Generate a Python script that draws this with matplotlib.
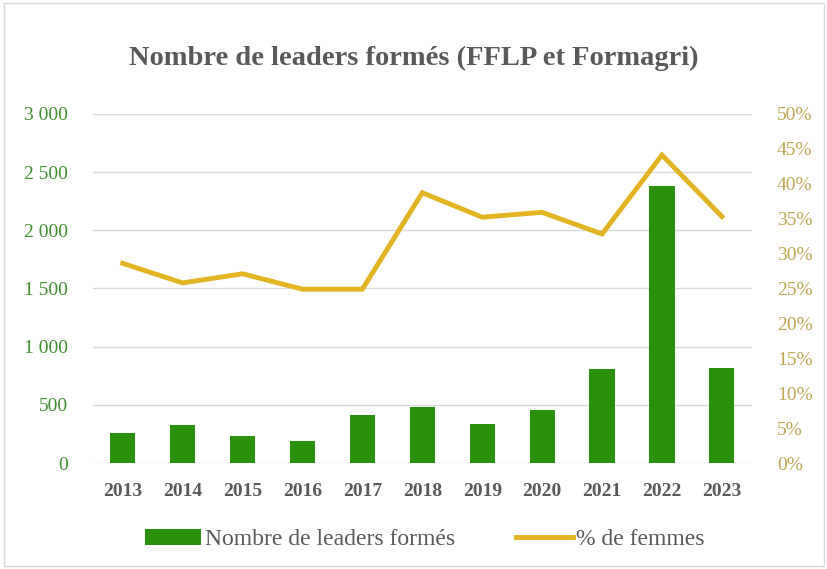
import matplotlib
matplotlib.use("Agg")
import matplotlib.pyplot as plt
from matplotlib.ticker import FuncFormatter, MultipleLocator
from matplotlib.patches import Rectangle

years = ["2013", "2014", "2015", "2016", "2017", "2018", "2019", "2020", "2021", "2022", "2023"]
leaders = [260, 329, 234, 194, 414, 483, 334, 457, 809, 2380, 817]
pct_women = [28.6, 25.8, 27.1, 24.9, 24.9, 38.7, 35.2, 35.9, 32.8, 44.1, 35.3]

title = "Nombre de leaders formés (FFLP et Formagri)"
bar_label = "Nombre de leaders formés"
line_label = "% de femmes"

plt.rcParams['font.family'] = ['Liberation Serif', 'DejaVu Serif']

BAR_C = "#2A910B"
LINE_C = "#E4B322"
LEFT_C = "#3E8E2E"
RIGHT_C = "#BFA653"
TEXT_C = "#595959"

fig = plt.figure(figsize=(8.28, 5.69), dpi=100)
ax = fig.add_axes([0.112, 0.186, 0.796, 0.614])
ax2 = ax.twinx()

x = list(range(len(years)))
b = ax.bar(x, leaders, width=0.42, color=BAR_C, zorder=3, label=bar_label)
ln, = ax2.plot(x, pct_women, color=LINE_C, lw=3.5, solid_joinstyle='miter', zorder=4, label=line_label)

ax.set_xlim(-0.5, len(years) - 0.5)
ax.set_ylim(0, 3000)
ax.yaxis.set_major_locator(MultipleLocator(500))
ax.yaxis.set_major_formatter(FuncFormatter(lambda v, p: f"{int(v):,}".replace(",", " ")))
ax2.set_ylim(0, 50)
ax2.yaxis.set_major_locator(MultipleLocator(5))
ax2.yaxis.set_major_formatter(FuncFormatter(lambda v, p: f"{int(v)}%"))

ax.grid(axis='y', color="#D9D9D9", lw=1.0, zorder=0)
ax.set_axisbelow(True)
for a in (ax, ax2):
    for s in a.spines.values():
        s.set_visible(False)
ax.tick_params(axis='both', length=0)
ax2.tick_params(axis='both', length=0)
ax.set_xticks(x)
ax.set_xticklabels(years, fontsize=14, fontweight='bold', color=TEXT_C)
ax.tick_params(axis='x', pad=14)
ax.tick_params(axis='y', labelsize=14, labelcolor=LEFT_C, pad=18)
ax2.tick_params(axis='y', labelsize=14, labelcolor=RIGHT_C, pad=18)

fig.text(0.5, 0.897, title, ha='center', va='center', fontsize=20.5, fontweight='bold', color=TEXT_C)

leg = fig.legend([b, ln], [bar_label, line_label], loc='center', bbox_to_anchor=(0.513, 0.052),
                 ncol=2, frameon=False, fontsize=17, labelcolor=TEXT_C, handlelength=2.4,
                 handletextpad=0.15, columnspacing=2.6)

fig.add_artist(Rectangle((0.005, 0.005), 0.99, 0.99, transform=fig.transFigure,
                         fill=False, edgecolor="#D9D9D9", lw=1.0))

fig.savefig("out.png", dpi=100)
